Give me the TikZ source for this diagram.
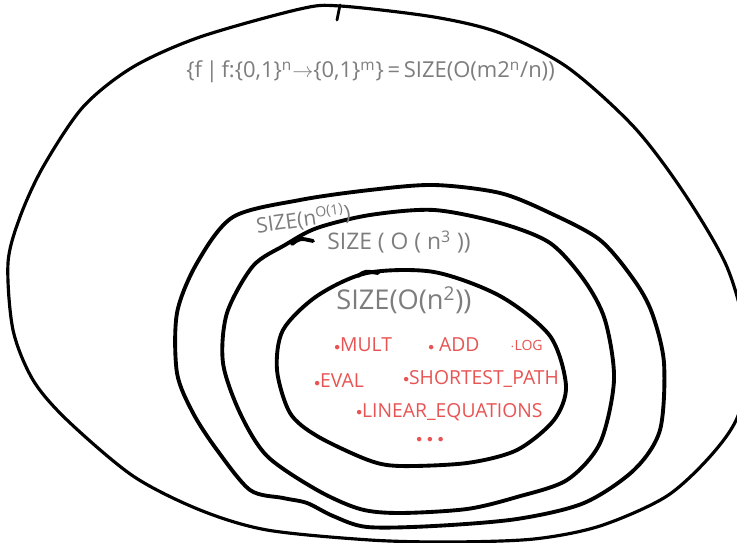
\documentclass[tikz,border=0pt]{standalone}
\usepackage{fontspec}
\setmainfont{Open Sans}
\definecolor{pencil}{RGB}{125,125,125}
\definecolor{redink}{RGB}{232,84,84}
\tikzset{
  ring/.style={line width=2.2pt,line join=round,smooth cycle,tension=0.5},
  hook/.style={line width=2.2pt,line cap=round},
  grayhand/.style={anchor=west,text=pencil,inner sep=0pt},
  redhand/.style={anchor=west,text=redink,inner sep=0pt,font=\fontsize{11}{12}\selectfont}
}
\newcommand{\reddot}{\raisebox{0.15ex}{\scalebox{0.6}{$\bullet$}}}
\begin{document}
\begin{tikzpicture}[x=0.02cm,y=-0.02cm]
\path[use as bounding box,clip] (0,0) rectangle (737,543);
\fill[white] (0,0) rectangle (737,543);
% outer class: all functions
\draw[ring,line width=1.8pt] plot coordinates {(340,6) (434,17) (500,33) (567,67) (634,127) (684,193) (727,267) (746,340) (740,410) (714,452) (667,496) (600,526) (534,539) (450,542) (370,540) (267,530) (200,510) (133,476) (67,420) (33,380) (13,330) (8,263) (20,217) (43,167) (83,107) (133,67) (200,37) (300,9)};
% SIZE(n^O(1))
\draw[ring] plot coordinates {(233,217) (300,200) (370,190) (434,185) (500,193) (550,213) (600,240) (634,280) (652,313) (664,363) (660,430) (634,470) (584,503) (517,519) (434,526) (367,527) (333,516) (307,503) (283,498) (250,490) (217,450) (193,413) (177,373) (177,313) (197,263)};
% SIZE(O(n^3))
\draw[ring] plot coordinates {(317,228) (370,215) (434,210) (500,223) (550,243) (584,280) (605,320) (614,380) (600,443) (567,480) (517,497) (467,509) (400,513) (360,509) (317,490) (267,456) (240,413) (223,363) (227,313) (253,266) (285,245)};
% SIZE(O(n^2))
\draw[ring] plot coordinates {(367,273) (434,272) (500,296) (550,336) (566,386) (554,420) (517,450) (467,463) (400,466) (368,460) (317,436) (290,413) (277,370) (283,330) (317,296)};
% pen marks where the loops close
\draw[hook,line width=1.6pt] (340,5) -- (337,20);
\draw[hook] (292,244) .. controls (300,238) .. (313,241);
\draw[hook] (358,276) .. controls (365,271) .. (378,273);
% labels
\node[grayhand,font=\fontsize{12.5}{14}\selectfont] (allf) at (186,72)
  {\{f\,|\,f:\{0,1\}\textsuperscript{n}$\rightarrow$\{0,1\}\textsuperscript{m}\}\,=\,SIZE(O(m2\textsuperscript{n}/n))};
\node[grayhand,font=\fontsize{12}{13}\selectfont,rotate=8] (sizepoly) at (256,226) {SIZE(n\textsuperscript{O(1)})};
\node[grayhand,font=\fontsize{13}{14}\selectfont] (sizecube) at (327,242) {SIZE ( O ( n\textsuperscript{3} ))};
\node[grayhand,font=\fontsize{15.5}{17}\selectfont] (sizesq) at (336,300) {SIZE(O(n\textsuperscript{2}))};
\node[redhand] (mult) at (334,345) {\reddot MULT};
\node[redhand] (add) at (428,345) {\reddot\ ADD};
\node[redhand,font=\fontsize{8}{9}\selectfont] (log) at (510,345) {$\cdot$LOG};
\node[redhand] (eval) at (314,381) {\reddot EVAL};
\node[redhand] (shortest) at (403,379) {\reddot SHORTEST\_PATH};
\node[redhand] (lineq) at (356,412) {\reddot LINEAR\_EQUATIONS};
\node[redhand] (dots) at (416,441) {\reddot\ \reddot\ \reddot};
\end{tikzpicture}
\end{document}
